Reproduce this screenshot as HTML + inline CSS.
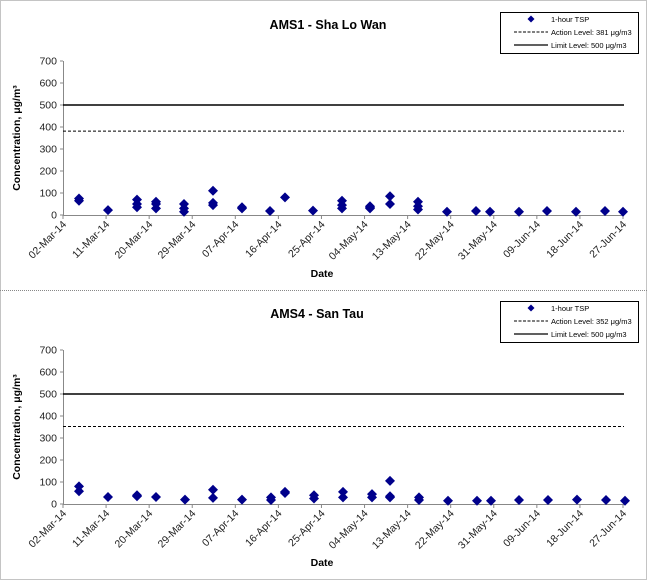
<!DOCTYPE html>
<html><head><style>body{margin:0;background:#fff}svg{display:block;font-family:"Liberation Sans",Arial,sans-serif}</style></head>
<body>
<svg width="647" height="580" viewBox="0 0 647 580" xmlns="http://www.w3.org/2000/svg">
<defs>
<path id="d" d="M0,-5 L5,0 L0,5 L-5,0Z" fill="#00008B"/>
<path id="ds" d="M0,-3.5 L3.5,0 L0,3.5 L-3.5,0Z" fill="#00008B"/>
</defs>
<rect x="0.5" y="0.5" width="646" height="579" fill="#fff" stroke="#888" stroke-dasharray="1,1"/>
<line x1="0" y1="290.5" x2="647" y2="290.5" stroke="#888" stroke-dasharray="1,1"/>
<g id="p1"></g>
<g id="p2"></g>
<script>
const ns="http://www.w3.org/2000/svg";
function el(p,t,a,txt){const e=document.createElementNS(ns,t);for(const k in a)e.setAttribute(k,a[k]);if(txt!==undefined)e.textContent=txt;p.appendChild(e);return e;}
const dates=["02-Mar-14","11-Mar-14","20-Mar-14","29-Mar-14","07-Apr-14","16-Apr-14","25-Apr-14","04-May-14","13-May-14","22-May-14","31-May-14","09-Jun-14","18-Jun-14","27-Jun-14"];
function panel(g,oy,title,tx,act,data){
 const x0=63,x1=624,yt=61+oy,yb=215+oy,s=0.22;
 el(g,"text",{x:tx,y:29+oy,"text-anchor":"middle","font-size":"12.5","font-weight":"bold"},title);
 el(g,"rect",{x:500.5,y:12.5+oy,width:138,height:41,fill:"#fff",stroke:"#000","stroke-width":1});
 el(g,"use",{href:"#ds",x:531,y:19+oy});
 el(g,"text",{x:551,y:22+oy,"font-size":"7.5"},"1-hour TSP");
 el(g,"line",{x1:514,y1:32+oy,x2:548,y2:32+oy,stroke:"#000","stroke-dasharray":"3,1.5"});
 el(g,"text",{x:551,y:35+oy,"font-size":"7.5"},"Action Level: "+act+" μg/m3");
 el(g,"line",{x1:514,y1:45+oy,x2:548,y2:45+oy,stroke:"#000","stroke-width":1.2});
 el(g,"text",{x:551,y:48+oy,"font-size":"7.5"},"Limit Level: 500 μg/m3");
 el(g,"line",{x1:x0+.5,y1:yt,x2:x0+.5,y2:yb,stroke:"#888"});
 for(let v=0;v<=700;v+=100){const y=yb-v*s;el(g,"line",{x1:x0-3,y1:y,x2:x0,y2:y,stroke:"#888"});el(g,"text",{x:x0-6,y:y+3.5,"text-anchor":"end","font-size":"10.5",fill:"#222"},v);}
 el(g,"line",{x1:x0,y1:yb+.5,x2:x1,y2:yb+.5,stroke:"#888"});
 dates.forEach((d,i)=>{const x=x0+i*(x1-x0-1)/13;el(g,"line",{x1:x,y1:yb,x2:x,y2:yb+4,stroke:"#888"});el(g,"text",{x:0,y:0,"text-anchor":"end","font-size":"10.5",fill:"#222",transform:`translate(${x+4},${yb+10}) rotate(-45)`},d);});
 el(g,"text",{x:0,y:0,"text-anchor":"middle","font-size":"10.5","font-weight":"bold",transform:`translate(20,${(yt+yb)/2}) rotate(-90)`},"Concentration, μg/m³");
 el(g,"text",{x:322,y:yb+62,"text-anchor":"middle","font-size":"10.5","font-weight":"bold"},"Date");
 el(g,"line",{x1:x0,y1:yb-500*s,x2:x1,y2:yb-500*s,stroke:"#000","stroke-width":1.5});
 el(g,"line",{x1:x0,y1:yb-act*s,x2:x1,y2:yb-act*s,stroke:"#000","stroke-dasharray":"3,2"});
 data.forEach(([x,vs])=>vs.forEach(v=>el(g,"use",{href:"#d",x:x,y:yb-v*s})));
}
panel(document.getElementById("p1"),0,"AMS1 - Sha Lo Wan",328,381,[
[79,[75,65]],[108,[22]],[137,[70,50,35]],[156,[60,50,30]],[184,[50,30,15]],[213,[110,55,45]],[242,[35,30]],[270,[18]],[285,[80]],[313,[20]],
[342,[65,45,30]],[370,[40,30,35]],[390,[85,50]],[418,[60,40,25]],[447,[15]],[476,[18]],[490,[15]],[519,[15]],[547,[18]],[576,[15]],[605,[18]],[623,[15]]]);
panel(document.getElementById("p2"),289,"AMS4 - San Tau",317,352,[
[79,[80,58]],[108,[32]],[137,[40,35]],[156,[32]],[185,[20]],[213,[65,28]],[242,[20]],[271,[30,18]],[285,[55,50]],[314,[40,25]],
[343,[55,30]],[372,[45,30]],[390,[105,35,30]],[419,[30,18]],[448,[15]],[477,[15]],[491,[15]],[519,[18]],[548,[18]],[577,[20]],[606,[18]],[625,[15]]]);
</script>
</svg>
</body></html>
